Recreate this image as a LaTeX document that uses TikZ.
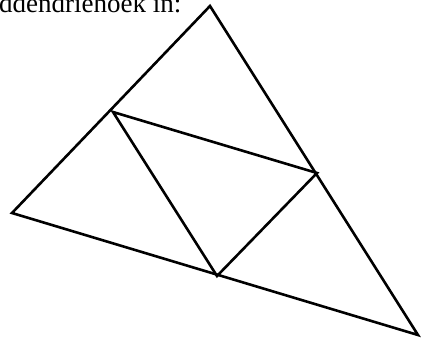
\documentclass[tikz,border=0pt]{standalone}
\usepackage{fontspec}
\setmainfont{Liberation Serif}
\usetikzlibrary{calc}
\tikzset{edge/.style={line width=2.6pt, line join=miter, line cap=round},
         caption/.style={inner sep=0pt, anchor=base west, font=\fontsize{27}{30}\selectfont}}
\begin{document}
\begin{tikzpicture}[x=1pt,y=-1pt]
\useasboundingbox (0,0) rectangle (421,338);
\clip (0,0) rectangle (421,338);
\node[caption] (t) at (-1,12) {ddendriehoek in:};
\coordinate (A) at (210,6);
\coordinate (B) at (12,213);
\coordinate (C) at (418,335);
\coordinate (P) at (113,112);
\coordinate (Q) at (317,173);
\coordinate (R) at (217,276);
\draw[edge] (A) -- (B) -- (C) -- cycle;
\draw[edge] (P) -- (Q) -- (R) -- cycle;
\end{tikzpicture}
\end{document}
